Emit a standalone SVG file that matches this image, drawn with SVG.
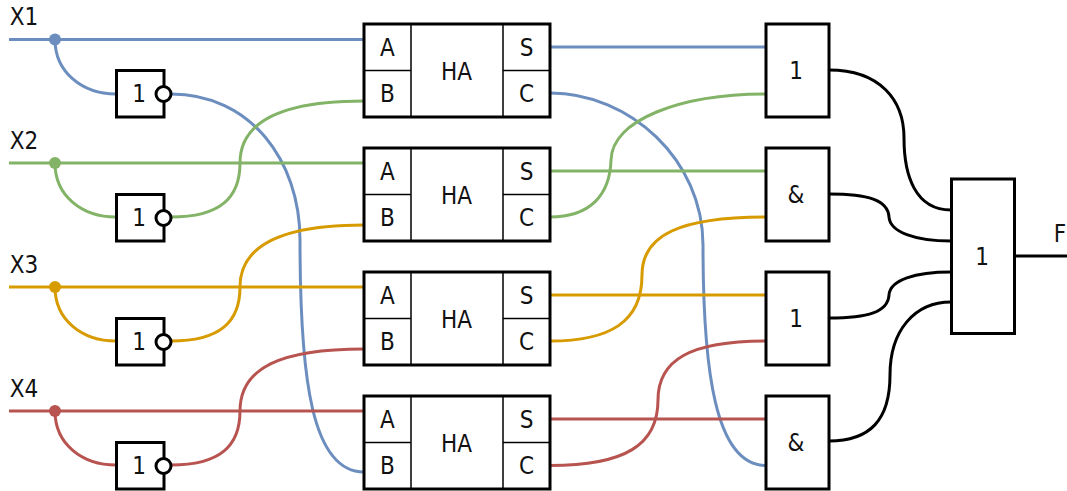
<svg xmlns="http://www.w3.org/2000/svg" width="1067" height="491" viewBox="0 0 1067 491">
<style>
text{font-family:"DejaVu Sans Condensed","DejaVu Sans",sans-serif;font-stretch:condensed;font-size:24px;fill:#111;text-anchor:middle}
.w{fill:none;stroke-width:3}
.blue{stroke:#6c8ebf}.green{stroke:#82b366}.orange{stroke:#d79b00}.red{stroke:#b85450}.black{stroke:#000}
.box{fill:#fff;stroke:#000;stroke-width:3}
.thin{stroke:#000;stroke-width:1.5;fill:none}
.inv{fill:#fff;stroke:#000;stroke-width:3}
.bl{fill:#6c8ebf}.gr{fill:#82b366}.or{fill:#d79b00}.re{fill:#b85450}
</style>
<defs>
<g id="ha">
<rect class="box" x="364" y="24" width="186" height="93"/>
<path class="thin" d="M411 24V117M503 24V117M364 70.5H411M503 70.5H550"/>
<text x="387.500" y="56">A</text><text x="387.500" y="102">B</text><text x="456.500" y="79.500">HA</text><text x="526.500" y="56">S</text><text x="526.500" y="102">C</text>
</g>
<g id="not">
<rect class="box" x="116.500" y="70.500" width="47.500" height="46.500"/>
<circle class="inv" cx="163.500" cy="94" r="7.500"/>
<text x="139" y="102">1</text>
</g>
</defs>
<g id="connectors">
<path class="w blue" d="M9 39.500H364M55 39.500C55 72 82 94 116 94M171 94C250 94 300 160 300 240C300 380 312 472 364 472M550 47H766M550 93C630 93 703 160 703 245C703 370 715 465.500 766 465.500"/>
<path class="w green" d="M9 163H364M55 163C55 196 82 217 116 217M171 217C220 217 240 198 240 163C240 120 285 101 364 101M550 171H766M550 217C590 217 610 195 611 160C612 120 680 94 766 94"/>
<path class="w orange" d="M9 287H364M55 287C55 320 82 341 116 341M171 341C220 341 240 322 240 287C240 244 285 225 364 225M550 295H766M550 341C610 341 642 322 642 275C642 235 680 217 766 217"/>
<path class="w red" d="M9 411H364M55 411C55 444 82 465 116 465M171 465C220 465 240 446 240 411C240 368 280 349 364 349M550 419H766M550 465.500C625 465.500 658 445 658 400C658 360 690 341 766 341"/>
<path class="w black" d="M829 70C880 70 904 100 904 138C904 175 915 210 951 210M829 194C868 194 888 200 889 217C890 232 915 241 951 241M829 318C868 318 888 312 889 295C890 280 915 272 951 272M829 441C870 441 890 420 890 375C890 330 915 302 951 302M1014 256H1067"/>
<circle class="bl" cx="55" cy="39.500" r="6"/><circle class="gr" cx="55" cy="163" r="6"/><circle class="or" cx="55" cy="287" r="6"/><circle class="re" cx="55" cy="411" r="6"/>
</g>
<g id="labels"><text x="24" y="25">X1</text><text x="24" y="149">X2</text><text x="24" y="273">X3</text><text x="24" y="397">X4</text><text x="1060" y="241.500">F</text></g>
<g id="not1"><use href="#not"/></g>
<g id="not2"><use href="#not" y="124"/></g>
<g id="not3"><use href="#not" y="248"/></g>
<g id="not4"><use href="#not" y="372"/></g>
<g id="ha1"><use href="#ha"/></g>
<g id="ha2"><use href="#ha" y="124"/></g>
<g id="ha3"><use href="#ha" y="248"/></g>
<g id="ha4"><use href="#ha" y="372"/></g>
<g id="g1"><rect class="box" x="766" y="24" width="63" height="93"/><text x="796" y="79">1</text></g>
<g id="g2"><rect class="box" x="766" y="148" width="63" height="93"/><text x="796" y="203">&amp;</text></g>
<g id="g3"><rect class="box" x="766" y="272" width="63" height="93"/><text x="796" y="327">1</text></g>
<g id="g4"><rect class="box" x="766" y="396" width="63" height="93"/><text x="796" y="451">&amp;</text></g>
<g id="out"><rect class="box" x="951.500" y="179" width="63" height="154.500"/><text x="982" y="265">1</text></g>
</svg>
